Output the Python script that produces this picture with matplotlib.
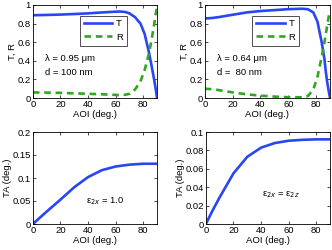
import matplotlib.pyplot as plt
import numpy as np

plt.rcParams['font.family'] = ['Liberation Sans', 'DejaVu Sans']
plt.rcParams['font.size'] = 6.8

# top left: lambda = 0.95 um, d = 100 nm
aoi_a = [0, 10, 20, 30, 40, 50, 60, 63, 67, 70, 74, 78, 81, 84, 86, 88, 89, 90]
T_a = [0.89, 0.893, 0.897, 0.903, 0.91, 0.92, 0.928, 0.93, 0.925, 0.91, 0.87, 0.8, 0.69, 0.5, 0.35, 0.19, 0.1, 0.0]
R_a = [0.06, 0.058, 0.055, 0.05, 0.045, 0.04, 0.033, 0.03, 0.035, 0.045, 0.09, 0.18, 0.3, 0.47, 0.62, 0.8, 0.9, 0.97]

# top right: lambda = 0.64 um, d = 80 nm
aoi_b = [0, 5, 10, 20, 30, 40, 50, 60, 70, 74, 78, 81, 84, 86, 87, 88, 89, 90]
T_b = [0.855, 0.86, 0.87, 0.895, 0.92, 0.935, 0.945, 0.955, 0.96, 0.955, 0.92, 0.82, 0.6, 0.42, 0.28, 0.17, 0.08, 0.0]
R_b = [0.1, 0.095, 0.085, 0.06, 0.04, 0.025, 0.015, 0.008, 0.008, 0.02, 0.09, 0.23, 0.44, 0.6, 0.69, 0.78, 0.87, 0.94]

# bottom left: eps_2x = 1.0
aoi_c = [0, 10, 20, 30, 40, 50, 60, 70, 80, 90]
TA_c = [0.0, 0.027, 0.053, 0.08, 0.102, 0.117, 0.125, 0.129, 0.131, 0.131]

# bottom right: eps_2x = eps_2z
aoi_d = [0, 5, 10, 20, 30, 40, 50, 60, 70, 80, 90]
TA_d = [0.0, 0.015, 0.029, 0.055, 0.073, 0.083, 0.088, 0.0905, 0.0915, 0.092, 0.092]

blue = '#2846f5'
green = '#2ea81e'

fig = plt.figure(figsize=(3.32, 2.5), dpi=100)
ax1 = fig.add_axes([0.099, 0.608, 0.374, 0.372])
ax2 = fig.add_axes([0.617, 0.608, 0.377, 0.372])
ax3 = fig.add_axes([0.099, 0.104, 0.374, 0.368])
ax4 = fig.add_axes([0.620, 0.104, 0.374, 0.368])


def style(ax):
    ax.tick_params(direction='in', top=True, right=True, length=2.5, width=0.5, pad=1.5, labelsize=6.8)
    for s in ax.spines.values():
        s.set_linewidth(0.6)
    ax.set_xlim(0, 90)
    ax.set_xticks([0, 20, 40, 60, 80])
    ax.set_xlabel('AOI (deg.)', labelpad=0.5)


for ax, x, T, R, lam in [(ax1, aoi_a, T_a, R_a, '0.95'), (ax2, aoi_b, T_b, R_b, '0.64')]:
    ax.plot(x, T, color=blue, lw=1.9, label='T')
    ax.plot(x, R, color=green, lw=1.9, ls=(0, (2.5, 1.8)), label='R')
    style(ax)
    ax.set_ylim(0, 1)
    ax.set_yticks([0, 0.2, 0.4, 0.6, 0.8, 1])
    ax.set_yticklabels(['0', '0.2', '0.4', '0.6', '0.8', '1'])
    ax.set_ylabel('T, R', labelpad=0.5)
    leg = ax.legend(loc='upper left', bbox_to_anchor=(0.38, 0.885), handlelength=3.0,
                    borderpad=0.4, labelspacing=0.45, handletextpad=0.4, fancybox=False,
                    framealpha=1, edgecolor='#333333', borderaxespad=0)
    leg.get_frame().set_linewidth(0.6)
    ax.text(0.1, 0.4, '\u03bb = %s \u03bcm' % lam, transform=ax.transAxes)

ax1.text(0.1, 0.25, 'd = 100 nm', transform=ax1.transAxes)
ax2.text(0.1, 0.25, 'd =  80 nm', transform=ax2.transAxes)

ax3.plot(aoi_c, TA_c, color=blue, lw=1.9)
style(ax3)
ax3.set_ylim(0, 0.2)
ax3.set_yticks([0, 0.05, 0.1, 0.15, 0.2])
ax3.set_yticklabels(['0', '0.05', '0.1', '0.15', '0.2'])
ax3.set_ylabel('TA (deg.)', labelpad=0.5)
ax3.text(0.43, 0.22, '\u03b5$_{2x}$ = 1.0', transform=ax3.transAxes)

ax4.plot(aoi_d, TA_d, color=blue, lw=1.9)
style(ax4)
ax4.set_ylim(0, 0.1)
ax4.set_yticks([0, 0.02, 0.04, 0.06, 0.08, 0.1])
ax4.set_yticklabels(['0', '0.02', '0.04', '0.06', '0.08', '0.1'])
ax4.set_ylabel('TA (deg.)', labelpad=0.5)
ax4.text(0.45, 0.3, '\u03b5$_{2x}$ = \u03b5$_{2z}$', transform=ax4.transAxes)

plt.savefig('out.png', dpi=100)
